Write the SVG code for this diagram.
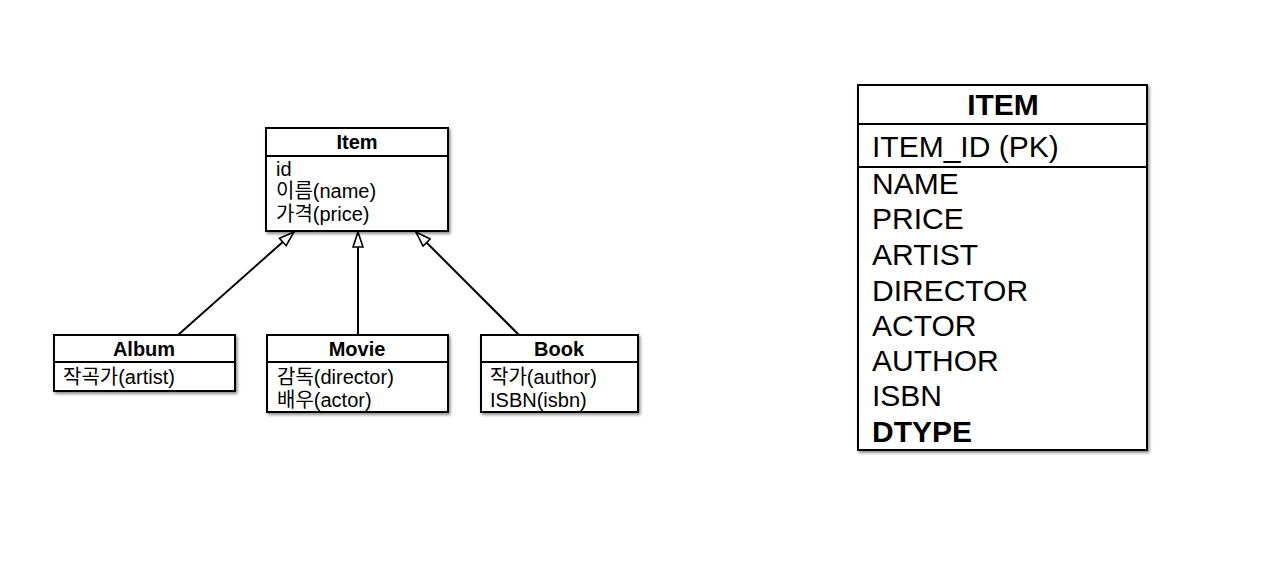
<svg xmlns="http://www.w3.org/2000/svg" width="1282" height="578" viewBox="0 0 1282 578">
<defs>
<filter id="sh" x="-10%" y="-10%" width="120%" height="120%">
<feDropShadow dx="1.5" dy="2" stdDeviation="1.5" flood-color="#000" flood-opacity="0.45"/>
</filter>
<marker id="tri" viewBox="0 0 17 12" refX="16" refY="6" markerWidth="17" markerHeight="12" markerUnits="userSpaceOnUse" orient="auto">
<path d="M1,1 L16,6 L1,11 Z" fill="#fff" stroke="#000" stroke-width="1.6"/>
</marker>
</defs>
<style>
.box{fill:#fff;stroke:#000;stroke-width:2;filter:url(#sh)}
.ln{stroke:#000;stroke-width:2;fill:none}
.t{font-family:"Liberation Sans","Noto Sans CJK KR",sans-serif;font-size:20px;fill:#000}
.h{font-weight:bold;text-anchor:middle}
.T{font-family:"Liberation Sans","Noto Sans CJK KR",sans-serif;font-size:30px;fill:#000}
.TH{font-weight:bold;text-anchor:middle}
.B{font-weight:bold}
.c{stroke:#000;stroke-width:2;fill:none;marker-end:url(#tri)}
</style>
<rect width="1282" height="578" fill="#fff"/>
<g id="connectors">
<line class="c" x1="178" y1="335" x2="294" y2="232"/>
<line class="c" x1="358" y1="335" x2="358" y2="232"/>
<line class="c" x1="519" y1="335" x2="416" y2="232"/>
</g>
<g id="item">
<rect class="box" x="266" y="128" width="182" height="103"/>
<line class="ln" x1="266" y1="156" x2="448" y2="156"/>
<text class="t h" x="357" y="149">Item</text>
<text class="t" x="276" y="176">id</text>
<text class="t" x="276" y="198">이름(name)</text>
<text class="t" x="276" y="221">가격(price)</text>
</g>
<g id="album">
<rect class="box" x="54" y="335" width="181" height="56"/>
<line class="ln" x1="54" y1="362" x2="235" y2="362"/>
<text class="t h" x="144" y="356">Album</text>
<text class="t" x="63" y="384">작곡가(artist)</text>
</g>
<g id="movie">
<rect class="box" x="267" y="335" width="181" height="77"/>
<line class="ln" x1="267" y1="362" x2="448" y2="362"/>
<text class="t h" x="357" y="356">Movie</text>
<text class="t" x="277" y="384">감독(director)</text>
<text class="t" x="277" y="407">배우(actor)</text>
</g>
<g id="book">
<rect class="box" x="481" y="335" width="157" height="77"/>
<line class="ln" x1="481" y1="362" x2="638" y2="362"/>
<text class="t h" x="559" y="356">Book</text>
<text class="t" x="490" y="384">작가(author)</text>
<text class="t" x="490" y="407">ISBN(isbn)</text>
</g>
<g id="ITEM">
<rect class="box" x="858" y="85" width="289" height="365"/>
<line class="ln" x1="858" y1="124" x2="1147" y2="124"/>
<line class="ln" x1="858" y1="167" x2="1147" y2="167"/>
<text class="T TH" x="1003" y="115">ITEM</text>
<text class="T" x="872" y="157">ITEM_ID (PK)</text>
<text class="T" x="872" y="194">NAME</text>
<text class="T" x="872" y="229">PRICE</text>
<text class="T" x="872" y="265">ARTIST</text>
<text class="T" x="872" y="301">DIRECTOR</text>
<text class="T" x="872" y="336">ACTOR</text>
<text class="T" x="872" y="371">AUTHOR</text>
<text class="T" x="872" y="406">ISBN</text>
<text class="T B" x="872" y="442">DTYPE</text>
</g>
</svg>
